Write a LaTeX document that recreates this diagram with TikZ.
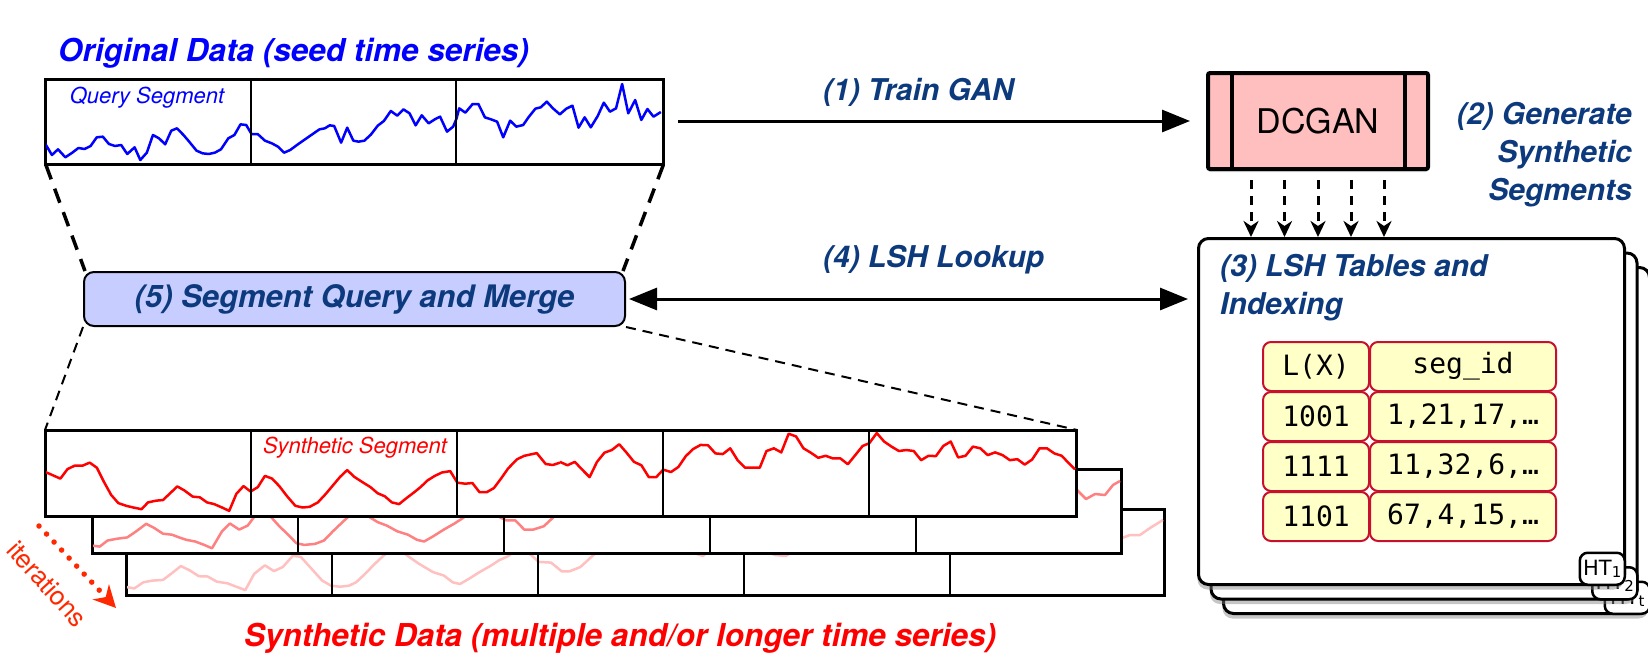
\documentclass[tikz,border=0pt]{standalone}
\usepackage{fontspec}
\setmainfont{TeX Gyre Heros}
\newfontfamily\monofnt{DejaVu Sans Mono}
\newfontfamily\htfnt{DejaVu Sans}
\usetikzlibrary{arrows.meta,shadows,calc}
\definecolor{dblue}{RGB}{12,58,125}
\definecolor{pinkfill}{RGB}{255,191,191}
\definecolor{qfill}{RGB}{199,205,255}
\definecolor{cellfill}{RGB}{255,255,200}
\definecolor{cellborder}{RGB}{200,16,46}
\definecolor{synb}{RGB}{255,128,128}
\definecolor{sync}{RGB}{255,192,192}
\definecolor{iterred}{RGB}{255,40,0}
\begin{document}
\begin{tikzpicture}[x=1pt,y=-1pt,
  lbl/.style={font=\fontsize{30}{38}\selectfont\bfseries\itshape, text=dblue, inner sep=0pt},
  biglbl/.style={font=\fontsize{31.5}{38}\selectfont\bfseries\itshape, inner sep=0pt},
  databox/.style={draw=black, line width=2.2pt, fill=white, inner sep=0pt, anchor=north west},
  bigarrow/.style={line width=3pt},
  topdash/.style={line width=3.5pt, dash pattern=on 15pt off 10pt},
  lowdash/.style={line width=2pt, dash pattern=on 10pt off 7pt},
  gendash/.style={line width=3pt, dash pattern=on 9pt off 7pt, -{Stealth[length=16pt,width=15pt,inset=5pt]}},
  lshbox/.style={draw=black, line width=3pt, fill=white, rounded corners=10pt, minimum width=426pt, minimum height=346pt, anchor=north west, inner sep=0pt, drop shadow={shadow xshift=-1pt, shadow yshift=-5pt, opacity=.45}},
  httag/.style={draw=black, line width=2.5pt, fill=white, rounded corners=8pt, minimum width=45pt, minimum height=32pt, anchor=south east, inner sep=0pt, font=\htfnt\fontsize{21}{21}\selectfont},
  cell/.style={draw=cellborder, line width=2pt, fill=cellfill, rounded corners=8pt, minimum height=49pt, inner sep=0pt, font=\monofnt\fontsize{28}{28}\selectfont},
  curve/.style={line width=2.5pt, line join=round}
]
\useasboundingbox (0,0) rectangle (1648,656);

% ---------------- Original data ----------------
\node[biglbl, text=blue, anchor=west] (origtitle) at (58,53) {Original Data (seed time series)};
\node[databox, minimum width=617pt, minimum height=84pt] (orig) at (45,79) {};
\begin{scope}
\clip (orig.north west) rectangle (orig.south east);
\begin{scope}[x=0.4073pt, y=-0.33333pt, xshift=29.52pt, yshift=-30pt]
\draw[curve, blue] plot coordinates {(38,340) (55,375) (70,358) (88,382) (105,368) (120,354) (135,357) (150,348) (165,322) (180,320) (195,342) (210,348) (225,345) (240,372) (258,352) (272,390) (288,368) (303,315) (318,325) (333,343) (348,302) (362,295) (378,315) (392,335) (410,362) (425,370) (440,372) (455,368) (470,358) (488,325) (503,315) (518,283) (532,285) (545,312) (560,312) (578,332) (595,340) (610,350) (625,368) (640,360) (660,342) (680,325) (700,308) (712,298) (725,295) (737,286) (748,288) (765,338) (780,293) (795,332) (808,335) (822,332) (838,314) (855,287) (870,273) (887,243) (903,257) (918,238) (933,250) (948,286) (963,256) (980,280) (995,268) (1008,260) (1025,305) (1040,290) (1048,267) (1055,235) (1070,248) (1088,222) (1102,222) (1118,262) (1133,268) (1148,275) (1163,322) (1180,272) (1195,290) (1212,285) (1225,262) (1242,236) (1255,232) (1270,215) (1285,235) (1302,253) (1318,236) (1333,227) (1348,293) (1363,262) (1378,292) (1395,258) (1410,218) (1425,245) (1440,235) (1455,162) (1470,250) (1487,210) (1502,270) (1517,237) (1532,260) (1550,246)};
\end{scope}
\end{scope}
\draw[line width=2.2pt] (orig.north west) rectangle (orig.south east);
\foreach \i in {1,2}
  \draw[line width=2pt] ([xshift=\i*205.67pt]orig.north west) -- ([xshift=\i*205.67pt]orig.south west);
\node[text=blue, font=\fontsize{22}{22}\selectfont\itshape] (qseg) at (147,98) {Query Segment};

% ---------------- DCGAN ----------------
\node[draw=black, line width=4pt, fill=pinkfill, minimum width=220pt, minimum height=96pt, rounded corners=2pt, inner sep=0pt, font=\fontsize{34}{34}\selectfont, drop shadow={shadow xshift=0pt, shadow yshift=-3pt, opacity=.3}] (dcgan) at (1318,121) {DCGAN};
\draw[line width=3.5pt] ([xshift=-86pt]dcgan.north) -- ([xshift=-86pt]dcgan.south);
\draw[line width=3.5pt] ([xshift=87pt]dcgan.north) -- ([xshift=87pt]dcgan.south);
\node[lbl, anchor=east, align=right] (genlbl) at (1632,155) {(2) Generate\\Synthetic\\Segments};

% ---------------- LSH tables ----------------
\node[lshbox] (lsh3) at (1222,266) {};
\node[httag] (ht3) at (lsh3.south east) {HT\raisebox{-2pt}{\fontsize{15}{15}\selectfont t}};
\node[lshbox] (lsh2) at (1209.5,251.5) {};
\node[httag] (ht2) at (lsh2.south east) {HT\raisebox{-2pt}{\fontsize{15}{15}\selectfont 2}};
\node[lshbox] (lsh1) at (1197,237) {};
\node[httag] (ht1) at (lsh1.south east) {HT\raisebox{-2pt}{\fontsize{15}{15}\selectfont 1}};
\node[lbl, anchor=north west, align=left] (lshtitle) at (1220,254) {(3) LSH Tables and\\Indexing};

\node[cell, minimum width=106pt] (c11) at (1316,366.5) {L(X)};
\node[cell, minimum width=186pt] (c12) at (1463,366.5) {seg\_id};
\node[cell, minimum width=106pt] (c21) at (1316,416.5) {1001};
\node[cell, minimum width=186pt] (c22) at (1463,416.5) {1,21,17,…};
\node[cell, minimum width=106pt] (c31) at (1316,466.5) {1111};
\node[cell, minimum width=186pt] (c32) at (1463,466.5) {11,32,6,…};
\node[cell, minimum width=106pt] (c41) at (1316,516.5) {1101};
\node[cell, minimum width=186pt] (c42) at (1463,516.5) {67,4,15,…};

% generation arrows
\foreach \dx in {-67,-33.5,0,33,66}
  \draw[gendash] ([xshift=\dx pt, yshift=-9pt]dcgan.south) -- ([xshift=\dx pt]dcgan.south |- lsh1.north);

% ---------------- Query box ----------------
\node[draw=black, line width=2pt, fill=qfill, rounded corners=10pt, minimum width=541pt, minimum height=54pt, inner sep=0pt, lbl, font=\fontsize{31}{38}\selectfont\bfseries\itshape] (query) at (354.5,299) {(5) Segment Query and Merge};

% ---------------- Arrows ----------------
\draw[bigarrow, -{Triangle[length=28pt,width=22pt]}] ([xshift=14pt]orig.east |- dcgan.west) -- ([xshift=-16pt]dcgan.west);
\node[lbl, anchor=west] (trainlbl) at (823,92.5) {(1) Train GAN};
\draw[bigarrow, {Triangle[length=28pt,width=22pt]}-{Triangle[length=28pt,width=22pt]}] ([xshift=3pt]query.east) -- ([xshift=-9pt]query.east -| lsh1.west);
\node[lbl, anchor=west] (looklbl) at (823,259.5) {(4) LSH Lookup};

% dashed zoom lines
\draw[topdash] ([xshift=1pt]orig.south west) -- ([xshift=2pt]query.north west);
\draw[topdash] ([xshift=-1pt]orig.south east) -- ([xshift=-3pt]query.north east);

% ---------------- Synthetic strips ----------------
\node[databox, line width=2pt, minimum width=1037pt, minimum height=85pt] (synC) at (126,509) {};
\begin{scope}
\clip (synC.north west) rectangle (synC.south east);
\draw[curve, sync] plot coordinates {(126,587) (134.4,588.4) (143.3,582.3) (152.3,580.6) (163,579.9) (172,573.1) (180.9,566) (189.8,570.4) (198.8,576.2) (207.7,576.5) (216.7,581.6) (227.4,583.3) (236.3,586.7) (245.3,590.1) (254.2,573.8) (264.9,565.3) (273.9,571.1) (282.8,567) (292.8,555.8) (300.7,556.8) (311.5,568.7) (322.2,580.6) (331.1,585.7) (340,586.7) (349,585.7) (356.1,582.3) (365.1,573.8) (374,564.6) (383,556.1) (395.5,546.6) (408,556.1) (418.7,563.6) (433,572.1) (443.8,575.5) (452.7,582.3) (459.9,584) (468.8,578.9) (479.5,572.1) (490.3,566) (499.2,560.2) (508.2,556.1) (520.7,546.6) (533.2,556.8) (538.6,561.9) (551.1,562.6) (561.8,571.4) (569.3,571.4) (580.4,567) (587.8,560.2) (595.2,553.4) (610,545) (640,540) (670,545) (697,554) (703,556) (712,548) (740,540) (775,555) (786,556) (800,546) (830,538) (870,545) (900,535) (940,542) (980,534) (1020,540) (1060,532) (1100,541) (1122,538) (1130,535) (1140,535) (1150,528) (1163,520)};
\end{scope}
\draw[line width=2pt] (synC.north west) rectangle (synC.south east);
\foreach \i in {1,...,4}
  \draw[line width=2pt] ([xshift=\i*206pt]synC.north west) -- ([xshift=\i*206pt]synC.south west);

\node[databox, line width=2pt, minimum width=1028pt, minimum height=83pt] (synB) at (92,469) {};
\begin{scope}
\clip (synB.north west) rectangle (synB.south east);
\draw[curve, synb] plot coordinates {(92,545.6) (99.7,546.6) (107.6,540.5) (116.5,538.8) (127.3,537.4) (136.2,531.3) (146.2,523.8) (154.1,527.9) (163,533.7) (172,534.7) (179.1,537.4) (186.3,539.8) (195.2,541.5) (204.2,544.9) (212,548.3) (222,531.3) (229.9,523.5) (239.2,529.6) (247.8,525.5) (254.9,516) (261.4,509) (268.5,514.3) (279.3,526.2) (286.4,533) (296.4,543.2) (304.3,544.9) (315,543.9) (324,540.5) (332.9,531.3) (340,524.5) (347.2,517.7) (358,509) (370.5,517.7) (377.6,522.1) (386.6,525.5) (397.3,531.3) (408,534.7) (417,539.8) (424.1,541.5) (433,536.4) (443.8,529.6) (454.5,523.5) (463.4,517.7) (472.4,510) (486.7,509) (497.4,516) (506.4,520.4) (515.3,520.4) (524.3,529.6) (533.2,529.6) (543.9,526.2) (551.1,519.4) (556.4,514.3) (570,505) (600,498) (630,490) (660,500) (690,485) (720,495) (750,478) (780,490) (810,482) (840,495) (870,480) (900,492) (930,485) (960,495) (990,480) (1020,490) (1050,484) (1066,483) (1076,489) (1086,499) (1095,494) (1105,495) (1113,485) (1120,481)};
\end{scope}
\draw[line width=2pt] (synB.north west) rectangle (synB.south east);
\foreach \i in {1,...,4}
  \draw[line width=2pt] ([xshift=\i*206pt]synB.north west) -- ([xshift=\i*206pt]synB.south west);

\node[databox, line width=2pt, minimum width=1030pt, minimum height=85pt, drop shadow={shadow xshift=-2pt, shadow yshift=-2pt, opacity=.25}] (synA) at (45,430) {};
\begin{scope}
\clip (synA.north west) rectangle (synA.south east);
\begin{scope}[x=0.35765pt, y=-0.34pt, xshift=28.9pt, yshift=-397pt]
\draw[curve, red] plot coordinates {(45,220) (88,240) (108,212) (128,202) (150,202) (170,193) (190,208) (210,250) (230,288) (250,312) (272,320) (292,325) (315,330) (333,310) (355,305) (375,303) (395,283) (415,263) (435,275) (458,293) (478,295) (498,310) (518,315) (540,325) (560,335) (580,285) (600,262) (620,278) (640,265) (660,232) (680,240) (700,262) (722,292) (745,320) (765,325) (785,323) (808,310) (830,285) (850,260) (870,235) (890,215) (910,235) (935,252) (955,265) (975,283) (995,292) (1015,310) (1035,315) (1055,298) (1075,282) (1095,265) (1115,245) (1135,232) (1155,222) (1178,218) (1198,252) (1220,255) (1240,253) (1260,280) (1280,280) (1300,268) (1320,240) (1340,210) (1365,183) (1385,173) (1420,165) (1445,197) (1465,200) (1485,193)};
\end{scope}
\begin{scope}[x=0.37pt, y=-0.339pt, xshift=560pt, yshift=-397.46pt]
\draw[curve, red] plot coordinates {(0,190) (20,200) (40,190) (60,213) (80,235) (100,190) (120,163) (140,155) (160,138) (180,163) (200,190) (220,200) (240,235) (260,235) (279,213) (300,220) (320,205) (340,173) (360,152) (380,140) (400,141) (420,165) (440,167) (460,150) (480,185) (500,207) (520,207) (540,207) (558,158) (578,150) (598,162) (618,107) (638,115) (658,150) (678,163) (698,178) (718,172) (738,180) (758,180) (778,197) (798,170) (818,143) (836,135) (856,105) (876,130) (896,145) (916,158) (936,155) (956,158) (976,185) (996,172) (1016,173) (1036,143) (1056,130) (1076,177) (1096,172) (1116,145) (1136,150) (1156,170) (1176,162) (1196,170) (1216,185) (1236,182) (1256,198) (1276,183) (1296,150) (1316,150) (1336,165) (1356,172) (1376,195) (1392,212)};
\end{scope}
\end{scope}
\draw[line width=2pt] (synA.north west) rectangle (synA.south east);
\foreach \i in {1,...,4}
  \draw[line width=2pt] ([xshift=\i*206pt]synA.north west) -- ([xshift=\i*206pt]synA.south west);
\node[text=red, font=\fontsize{22}{22}\selectfont\itshape] (sseg) at (355,448) {Synthetic Segment};

\draw[lowdash] (query.south west) -- (synA.north west);
\draw[lowdash] (query.south east) -- (synA.north east);

% iterations
\coordinate (itA) at (39,526);
\coordinate (itB) at (116,608);
\draw[iterred, line width=5.5pt, line cap=round, dash pattern=on 0pt off 11pt, -{Stealth[length=22pt,width=22pt,inset=7pt]}] (itA) -- (itB);
\node[text=iterred, rotate=-48, font=\fontsize{26}{26}\selectfont, inner sep=0pt] (iterlbl) at (47,584) {iterations};

\node[biglbl, text=red, anchor=west] (synlbl) at (244,638) {Synthetic Data (multiple and/or longer time series)};
\end{tikzpicture}
\end{document}
